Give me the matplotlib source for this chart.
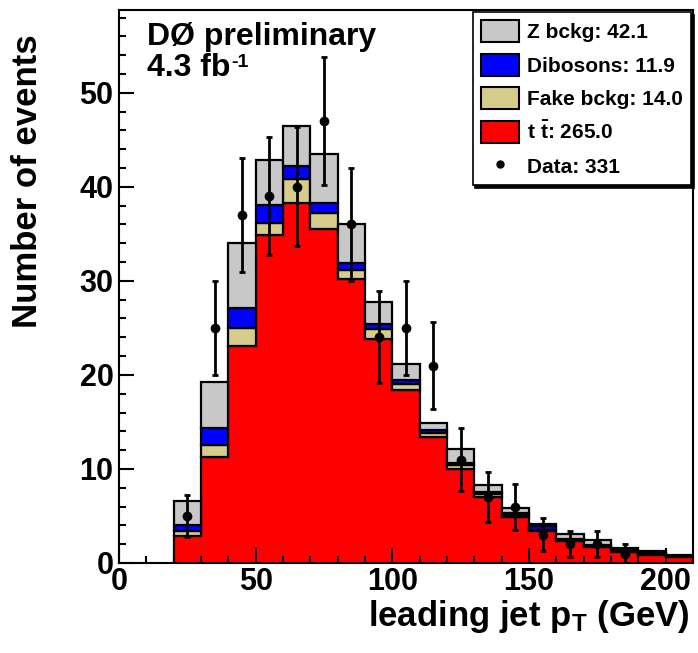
import numpy as np
import matplotlib
matplotlib.use("Agg")
import matplotlib.pyplot as plt
from matplotlib.patches import Patch
from matplotlib.lines import Line2D

plt.rcParams["font.family"] = ["Liberation Sans", "DejaVu Sans"]
plt.rcParams["font.weight"] = "bold"
plt.rcParams["mathtext.fontset"] = "custom"
plt.rcParams["mathtext.rm"] = "Liberation Sans:bold"
plt.rcParams["mathtext.bf"] = "Liberation Sans:bold"
plt.rcParams["mathtext.it"] = "Liberation Sans:bold"

# bin edges of leading jet pT [GeV]
edges = [20, 30, 40, 50, 60, 70, 80, 90, 100, 110, 120, 130, 140, 150, 160, 170, 180, 190, 200, 210]

# per-bin expected events
ttbar = [2.9, 11.3, 23.1, 34.9, 38.3, 35.5, 30.2, 23.8, 18.4, 13.4, 10.0, 7.0, 4.9, 3.4, 2.3, 1.7, 1.2, 0.9, 0.65]
fake = [0.5, 1.3, 1.9, 1.2, 2.5, 1.7, 1.0, 1.1, 0.6, 0.4, 0.4, 0.3, 0.2, 0.1, 0.2, 0.1, 0.1, 0.1, 0.05]
dibosons = [0.6, 1.8, 2.1, 2.0, 1.4, 1.1, 0.7, 0.5, 0.5, 0.3, 0.2, 0.2, 0.2, 0.4, 0.1, 0.1, 0.1, 0.05, 0.05]
zbckg = [2.6, 4.8, 6.9, 4.8, 4.3, 5.2, 4.1, 2.3, 1.7, 0.8, 1.5, 0.8, 0.5, 0.3, 0.5, 0.5, 0.2, 0.2, 0.15]
data = [5, 25, 37, 39, 40, 47, 36, 24, 25, 21, 11, 7, 6, 3, 2, 2, 1, 0, 0]

labels = ["Z bckg: 42.1", "Dibosons: 11.9", "Fake bckg: 14.0",
          r"$\mathbf{t\ \bar{t}}$: 265.0", "Data: 331"]

c_z = "#c8c8c8"
c_dib = "#0000ff"
c_fake = "#d6cc8c"
c_tt = "#ff0000"

W, H = 698, 653
fig = plt.figure(figsize=(W / 100, H / 100), dpi=100)
ax = fig.add_axes([119 / W, 90 / H, 574 / W, 553 / H])

edges = np.asarray(edges, float)
lo = edges[:-1]
width = np.diff(edges)
tt = np.asarray(ttbar)
fk = np.asarray(fake)
db = np.asarray(dibosons)
zb = np.asarray(zbckg)

ax.stairs(tt, edges, fill=True, color=c_tt, lw=0)
ax.stairs(tt, edges, color="black", lw=1.6)
kw = dict(width=width, align="edge", edgecolor="black", linewidth=1.6)
ax.bar(lo, fk, bottom=tt, color=c_fake, **kw)
ax.bar(lo, db, bottom=tt + fk, color=c_dib, **kw)
ax.bar(lo, zb, bottom=tt + fk + db, color=c_z, **kw)

d = np.asarray(data, float)
ctr = lo + width / 2
m = d > 0
ax.errorbar(ctr[m], d[m], yerr=np.sqrt(d[m]), fmt="o", color="black", ms=6,
            elinewidth=2, capsize=2.5, capthick=2, zorder=5)

ax.set_xlim(0, 210)
ax.set_ylim(0, 58.8)
ax.set_xticks([0, 50, 100, 150, 200])
ax.set_xticks(np.arange(0, 211, 10), minor=True)
ax.set_yticks([0, 10, 20, 30, 40, 50])
ax.set_yticks(np.arange(0, 59, 2), minor=True)
ax.tick_params(which="both", direction="in", top=False, right=False, width=1.5)
ax.tick_params(which="major", length=11, labelsize=22)
ax.tick_params(which="minor", length=5)
ax.tick_params(axis="x", pad=3)
ax.tick_params(axis="y", pad=4)
for s in ax.spines.values():
    s.set_linewidth(1.5)

handles = [Patch(facecolor=c_z, edgecolor="black", lw=1.5),
           Patch(facecolor=c_dib, edgecolor="black", lw=1.5),
           Patch(facecolor=c_fake, edgecolor="black", lw=1.5),
           Patch(facecolor=c_tt, edgecolor="black", lw=1.5),
           Line2D([], [], marker="o", color="black", ls="none", ms=5)]
leg = ax.legend(handles, labels, loc="upper right", bbox_to_anchor=(1.0, 1.0),
                borderaxespad=0.1, fancybox=False, framealpha=1, edgecolor="black",
                shadow={"color": "black", "alpha": 1}, prop={"size": 15, "weight": "bold"},
                handlelength=1.85, handleheight=1.25, handletextpad=0.35,
                labelspacing=0.55, borderpad=0.4)
leg.get_frame().set_linewidth(1.2)

fig.text(147 / W, 1 - 45 / H, "DØ preliminary", fontsize=23, fontweight="bold", va="baseline")
lumi = fig.text(147 / W, 1 - 76 / H, "4.3 fb", fontsize=23, fontweight="bold", va="baseline")
ax.annotate("-1", xy=(1.0, 1.0), xycoords=lumi, xytext=(0.5, -1), textcoords="offset points",
            fontsize=14, fontweight="bold", ha="left", va="top", annotation_clip=False)
fig.text(690 / W, 1 - 626 / H, r"leading jet p$_{\mathbf{T}}$ (GeV)", fontsize=25,
         fontweight="bold", ha="right", va="baseline")
fig.text(28 / W, 1 - 181 / H, "Number of events", fontsize=25, fontweight="bold",
         rotation=90, ha="center", va="center")

fig.savefig("out.png", dpi=100)
